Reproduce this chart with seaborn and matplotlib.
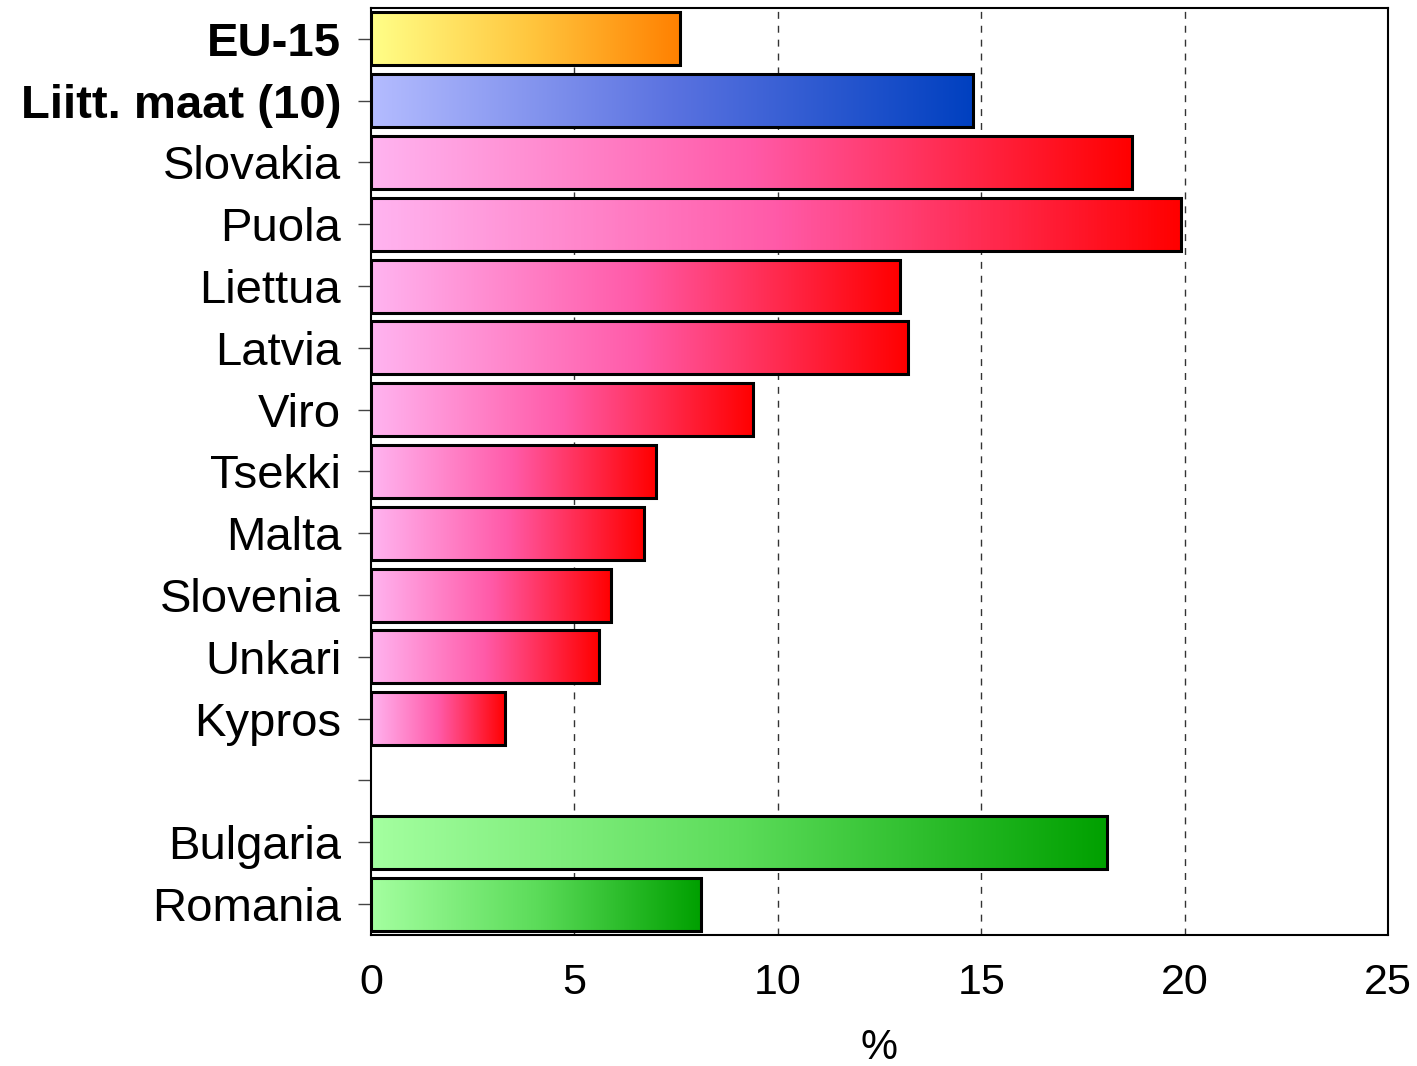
import numpy as np
import pandas as pd
import matplotlib
matplotlib.use("Agg")
import matplotlib.pyplot as plt
from matplotlib.colors import LinearSegmentedColormap
import seaborn as sns

categories = ["EU-15", "Liitt. maat (10)", "Slovakia", "Puola", "Liettua", "Latvia",
              "Viro", "Tsekki", "Malta", "Slovenia", "Unkari", "Kypros",
              "Bulgaria", "Romania"]
values = [7.6, 14.8, 18.7, 19.9, 13.0, 13.2, 9.4, 7.0, 6.7, 5.9, 5.6, 3.3, 18.1, 8.1]
groups = ["EU", "ACC", "C", "C", "C", "C", "C", "C", "C", "C", "C", "C", "CAND", "CAND"]
order = categories[:12] + [" "] + categories[12:]
x_ticks = [0, 5, 10, 15, 20, 25]
x_label = "%"

grad = {
    "EU": ("#ffff88", "#ffc840", "#ff8000"),
    "ACC": ("#b4bcff", "#5a72e0", "#0040c0"),
    "C": ("#ffb4f0", "#ff5aa8", "#ff0000"),
    "CAND": ("#a4ffa0", "#5cdc5a", "#00a000"),
}

sns.set_theme(style="white")
plt.rcParams["font.family"] = ["Liberation Sans", "DejaVu Sans"]
plt.rcParams["text.color"] = "black"
plt.rcParams["axes.labelcolor"] = "black"
plt.rcParams["xtick.color"] = "black"
plt.rcParams["ytick.color"] = "black"

df = pd.DataFrame({"cat": categories, "val": values, "grp": groups})

fig = plt.figure(figsize=(14.17, 10.66), dpi=100)
ax = fig.add_axes([371 / 1417, 1 - 935 / 1066, (1388 - 371) / 1417, (935 - 8) / 1066])

sns.barplot(data=df, y="cat", x="val", hue="grp", order=order,
            hue_order=["EU", "ACC", "C", "CAND"], dodge=False, legend=False,
            width=0.86, orient="h", ax=ax, edgecolor="black", linewidth=2.2)

cat_to_grp = dict(zip(categories, groups))
for p in list(ax.patches):
    w = p.get_width()
    h = p.get_height()
    if not np.isfinite(w) or w <= 0:
        continue
    y0 = p.get_y()
    idx = int(round(y0 + h / 2))
    g = cat_to_grp.get(order[idx])
    if g is None:
        continue
    cmap = LinearSegmentedColormap.from_list(g, list(grad[g]))
    img = np.linspace(0, 1, 256).reshape(1, -1)
    x0 = p.get_x()
    ax.imshow(img, cmap=cmap, aspect="auto", extent=(x0, x0 + w, y0 + h, y0),
              zorder=2, interpolation="bilinear")
    p.set_facecolor("none")
    p.set_zorder(3)

ax.set_xlim(0, 25)
ax.set_ylim(len(order) - 0.5, -0.5)
ax.set_xticks(x_ticks)
ax.set_xticklabels([str(t) for t in x_ticks])
ax.set_xlabel(x_label, fontsize=30, labelpad=18)
ax.set_ylabel("")

for xv in x_ticks[1:-1]:
    ax.axvline(xv, color="#333333", linestyle=(0, (5, 5)), linewidth=1.0, zorder=1)

ax.tick_params(axis="x", length=0, labelsize=31, pad=20, labelcolor="black")
ax.tick_params(axis="y", left=True, length=9.5, width=1.0, color="#444444",
               labelsize=34, pad=12, direction="out", labelcolor="black")
for lab in ax.get_yticklabels():
    if lab.get_text() in ("EU-15", "Liitt. maat (10)"):
        lab.set_fontweight("bold")

for s in ax.spines.values():
    s.set_visible(True)
    s.set_color("black")
    s.set_linewidth(1.5)

fig.savefig("out.png", dpi=100)
